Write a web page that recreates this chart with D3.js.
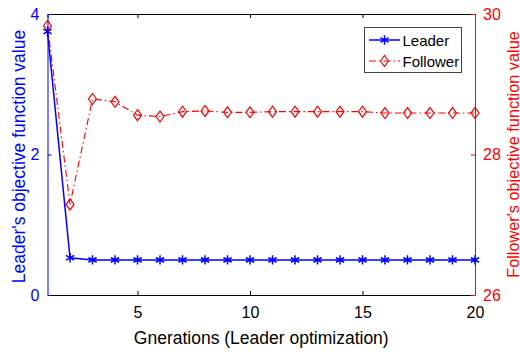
<!DOCTYPE html>
<html>
<head>
<meta charset="utf-8">
<script src="https://cdn.jsdelivr.net/npm/d3@7"></script>
<style>
  body { margin: 0; background: #fff; }
  svg { display: block; font-family: Arial, "Liberation Sans", Helvetica, sans-serif; }
</style>
</head>
<body>
<div id="chart"></div>
<script>
const generations = d3.range(1, 21);
const leaderValues = [3.75, 0.53, 0.5, 0.5, 0.5, 0.5, 0.5, 0.5, 0.5, 0.5,
                      0.5, 0.5, 0.5, 0.5, 0.5, 0.5, 0.5, 0.5, 0.5, 0.5];
const followerValues = [29.83, 27.29, 28.79, 28.75, 28.56, 28.54, 28.61, 28.62, 28.6, 28.6,
                        28.61, 28.61, 28.61, 28.61, 28.61, 28.59, 28.59, 28.59, 28.59, 28.59];
const xTicks = [5, 10, 15, 20];
const leftTicks = [0, 2, 4];
const rightTicks = [26, 28, 30];
const seriesNames = ['Leader', 'Follower'];

const width = 520, height = 352;
const margin = { top: 14, right: 45, bottom: 57, left: 47.5 };
const innerW = width - margin.left - margin.right;
const innerH = height - margin.top - margin.bottom;
const blue = '#0000ff', red = '#ff0000';
const fmt = d3.format('d');

const svg = d3.select('#chart').append('svg').attr('width', width).attr('height', height);
const g = svg.append('g').attr('transform', `translate(${margin.left},${margin.top})`);

const x = d3.scaleLinear().domain([1, 20]).range([0, innerW]);
const yL = d3.scaleLinear().domain([0, 4]).range([innerH, 0]);
const yR = d3.scaleLinear().domain([26, 30]).range([innerH, 0]);

// top border with inward ticks
g.append('g').call(d3.axisTop(x).tickValues(xTicks).tickSize(-4).tickFormat(''))
  .call(a => a.selectAll('path,line').attr('stroke', '#000'));

// bottom axis
const xa = g.append('g').attr('transform', `translate(0,${innerH})`)
  .call(d3.axisBottom(x).tickValues(xTicks).tickSize(-4).tickPadding(12).tickSizeOuter(0).tickFormat(fmt));
xa.selectAll('path,line').attr('stroke', '#000');
xa.selectAll('text').attr('font-size', 16).attr('fill', '#000').attr('font-family', null);

// left axis
const la = g.append('g')
  .call(d3.axisLeft(yL).tickValues(leftTicks).tickSize(-4).tickPadding(8).tickSizeOuter(0).tickFormat(fmt));
la.selectAll('path,line').attr('stroke', blue);
la.selectAll('text').attr('font-size', 16).attr('fill', blue).attr('font-family', null);

// right axis
const ra = g.append('g').attr('transform', `translate(${innerW},0)`)
  .call(d3.axisRight(yR).tickValues(rightTicks).tickSize(-4).tickPadding(8).tickSizeOuter(0).tickFormat(fmt));
ra.selectAll('path').attr('stroke', '#a0205c');
ra.selectAll('line').attr('stroke', red);
ra.selectAll('text').attr('font-size', 16).attr('fill', red).attr('font-family', null);

// axis labels
svg.append('text')
  .attr('transform', `translate(${margin.left + innerW / 2},${height - 8})`)
  .attr('text-anchor', 'middle').attr('font-size', 17.5).attr('fill', '#000')
  .text('Gnerations (Leader optimization)');
svg.append('text')
  .attr('transform', `translate(25,${margin.top + innerH / 2 + 2}) rotate(-90)`)
  .attr('text-anchor', 'middle').attr('font-size', 17.5).attr('fill', blue)
  .text("Leader's objective function value");
svg.append('text')
  .attr('transform', `translate(519,${margin.top + innerH / 2}) rotate(-90)`)
  .attr('text-anchor', 'middle').attr('font-size', 16.3).attr('fill', red)
  .text("Follower's objective function value");

const star = d3.symbol().type(d3.symbolAsterisk).size(62);
const diamond = 'M0,-5.5L4,0L0,5.5L-4,0Z';

// follower series
const followerPts = generations.map((d, i) => ({ x: d, y: followerValues[i] }));
g.append('path').datum(followerPts)
  .attr('fill', 'none').attr('stroke', red).attr('stroke-width', 1.1)
  .attr('stroke-dasharray', '7,3,1.5,3')
  .attr('d', d3.line().x(d => x(d.x)).y(d => yR(d.y)));
g.selectAll('.fm').data(followerPts).join('path').attr('class', 'fm')
  .attr('transform', d => `translate(${x(d.x)},${yR(d.y)})`)
  .attr('d', diamond).attr('fill', 'none').attr('stroke', red).attr('stroke-width', 1.2);

// leader series
const leaderPts = generations.map((d, i) => ({ x: d, y: leaderValues[i] }));
g.append('path').datum(leaderPts)
  .attr('fill', 'none').attr('stroke', blue).attr('stroke-width', 1.5)
  .attr('d', d3.line().x(d => x(d.x)).y(d => yL(d.y)));
g.selectAll('.lm').data(leaderPts).join('path').attr('class', 'lm')
  .attr('transform', d => `translate(${x(d.x)},${yL(d.y)})`)
  .attr('d', star).attr('fill', 'none').attr('stroke', blue).attr('stroke-width', 1.5);

// legend
const lg = svg.append('g').attr('transform', 'translate(364.5,27.5)');
lg.append('rect').attr('width', 97).attr('height', 45)
  .attr('fill', '#fff').attr('stroke', '#444').attr('stroke-width', 1);
const rows = [
  { name: seriesNames[0], color: blue, dash: null, mark: star, y: 12.5, w: 1.5 },
  { name: seriesNames[1], color: red, dash: '7,3,1.5,3', mark: diamond, y: 33.5, w: 1.2 }
];
rows.forEach(r => {
  lg.append('line').attr('x1', 4.5).attr('x2', 35.5).attr('y1', r.y).attr('y2', r.y)
    .attr('stroke', r.color).attr('stroke-width', r.w).attr('stroke-dasharray', r.dash);
  lg.append('path').attr('transform', `translate(20,${r.y})`)
    .attr('d', r.mark).attr('fill', 'none').attr('stroke', r.color).attr('stroke-width', r.w);
  lg.append('text').attr('x', 38).attr('y', r.y + 5.5)
    .attr('font-size', 15).attr('fill', '#000').text(r.name);
});
</script>
</body>
</html>
